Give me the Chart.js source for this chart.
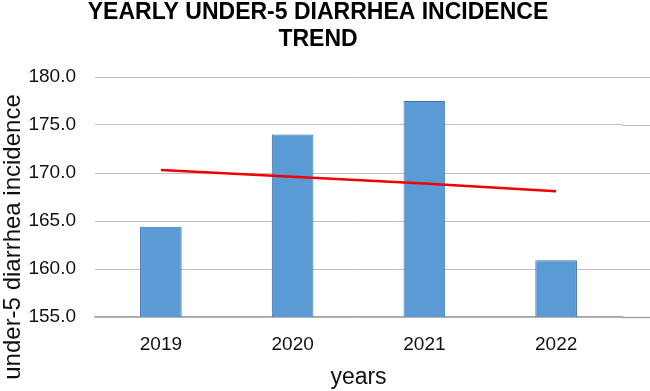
<!DOCTYPE html>
<html lang="en">
<head>
  <meta charset="UTF-8">
  <title>Yearly Under-5 Diarrhea Incidence Trend</title>
  <script src="https://cdn.jsdelivr.net/npm/chart.js"></script>
  <style>
    body {
      margin: 0;
      background: #fff;
    }
    #wrap {
      width: 650px;
      height: 391px;
    }
  </style>
</head>
<body>

<div id="wrap"><canvas id="chartDiare"></canvas></div>

<script>
  const years = ["2019", "2020", "2021", "2022"];
  const incidence = [164.4, 174.0, 177.5, 160.9];
  const trend = [170.3, 169.6, 168.9, 168.1];
  const titleLines = ["YEARLY UNDER-5 DIARRHEA INCIDENCE", "TREND"];
  const yTitle = "under-5 diarrhea incidence";
  const xTitle = "years";

  const FONT = "'Liberation Sans', Arial, sans-serif";

  // grid lines run past the plot to the right edge, like the source image
  const extendGrid = {
    id: "extendGrid",
    beforeDatasetsDraw(chart) {
      const { ctx, chartArea, scales } = chart;
      ctx.save();
      scales.y.ticks.forEach(t => {
        const y = Math.round(scales.y.getPixelForValue(t.value)) + 0.5;
        ctx.strokeStyle = t.value === 155 ? "#a6a6a6" : "#c0c0c0";
        ctx.lineWidth = t.value === 155 ? 1.5 : 1;
        ctx.beginPath();
        ctx.moveTo(chartArea.right, y);
        ctx.lineTo(chart.width, y);
        ctx.stroke();
      });
      ctx.restore();
    }
  };

  // chart title + y-axis title drawn by hand (the source has them off-centre)
  const labels = {
    id: "labels",
    afterDraw(chart) {
      const { ctx } = chart;
      ctx.save();
      ctx.fillStyle = "#000";
      ctx.textAlign = "center";
      ctx.textBaseline = "alphabetic";
      ctx.font = "bold 23px " + FONT;
      ctx.fillText(titleLines[0], 318, 19);
      ctx.fillText(titleLines[1], 318, 46);

      ctx.fillStyle = "#111";
      ctx.textBaseline = "middle";
      ctx.translate(13, 237);
      ctx.rotate(-Math.PI / 2);
      ctx.font = "24px " + FONT;
      ctx.fillText(yTitle, 0, 0);
      ctx.restore();
    }
  };

  new Chart(document.getElementById("chartDiare"), {
    data: {
      labels: years,
      datasets: [
        {
          type: "line",
          data: trend,
          borderColor: "#f00000",
          borderWidth: 2.5,
          pointRadius: 0,
          tension: 0,
          order: 0
        },
        {
          type: "bar",
          data: incidence,
          backgroundColor: "#5b9bd5",
          borderColor: "#3f72b0",
          borderWidth: 1,
          barPercentage: 0.316,
          categoryPercentage: 1,
          order: 1
        }
      ]
    },
    options: {
      responsive: true,
      maintainAspectRatio: false,
      animation: false,
      layout: { padding: { left: 16, right: 28, top: 77, bottom: 0 } },
      plugins: {
        legend: { display: false },
        tooltip: { enabled: false }
      },
      scales: {
        x: {
          afterFit: s => { s.height = 74; },
          grid: { display: false },
          border: { display: true, color: "#a6a6a6", width: 1.5 },
          ticks: {
            color: "#111",
            padding: 8,
            font: { family: FONT, size: 19 }
          },
          title: {
            display: true,
            text: xTitle,
            color: "#111",
            padding: { top: 0, bottom: 0 },
            font: { family: FONT, size: 23 }
          }
        },
        y: {
          min: 155,
          max: 180,
          afterFit: s => { s.width = 79; },
          grid: { color: "#c0c0c0", drawTicks: false },
          border: { display: false },
          ticks: {
            stepSize: 5,
            color: "#111",
            padding: 19,
            font: { family: FONT, size: 19 },
            callback: v => v.toFixed(1)
          }
        }
      }
    },
    plugins: [extendGrid, labels]
  });
</script>

</body>
</html>
